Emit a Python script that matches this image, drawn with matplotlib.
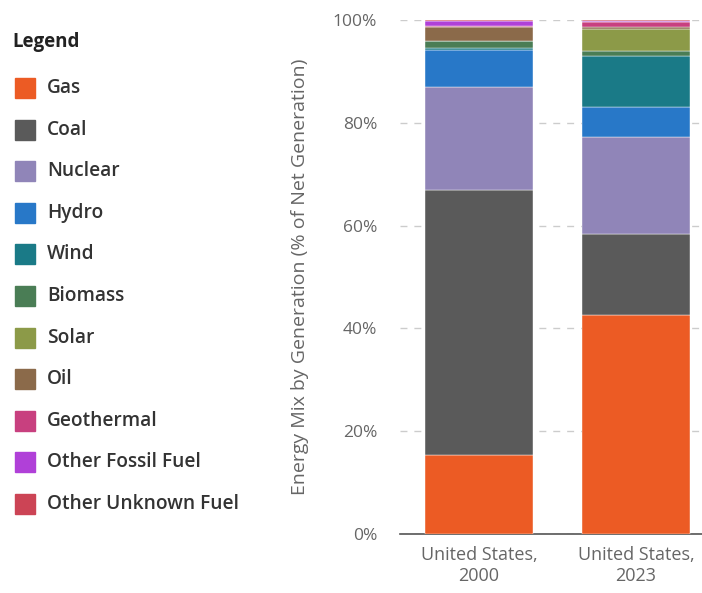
import matplotlib.pyplot as plt
from matplotlib.patches import Rectangle
from matplotlib.ticker import FuncFormatter

plt.rcParams['font.family'] = ['Open Sans', 'DejaVu Sans']

regions = ["United States,\n2000", "United States,\n2023"]
fuels = ["Gas", "Coal", "Nuclear", "Hydro", "Wind", "Biomass", "Solar", "Oil",
         "Geothermal", "Other Fossil Fuel", "Other Unknown Fuel"]
colors = ["#ec5b24", "#5a5a5a", "#9085b8", "#2878c8", "#1a7a87", "#4a7d55",
          "#8c9a48", "#8b6a4a", "#c8407f", "#b040d8", "#cc4455"]

share_2000 = [15.4, 51.5, 20.1, 7.2, 0.4, 1.3, 0.0, 2.8, 0.2, 1.0, 0.1]
share_2023 = [42.6, 15.7, 19.0, 5.7, 10.0, 1.0, 4.3, 0.4, 0.9, 0.3, 0.1]

W, H = 702, 593
fig = plt.figure(figsize=(W / 100, H / 100), dpi=100)
ax = fig.add_axes([400 / W, 59 / H, 302 / W, 514 / H])

x = [0, 1]
bottoms = [0.0, 0.0]
for i, fuel in enumerate(fuels):
    vals = [share_2000[i], share_2023[i]]
    ax.bar(x, vals, width=0.69, bottom=bottoms, color=colors[i],
           edgecolor="white", linewidth=0.3, zorder=3)
    bottoms = [b + v for b, v in zip(bottoms, vals)]

ax.set_xlim(-0.503, 1.42)
ax.set_ylim(0, 100)
ax.set_yticks([0, 20, 40, 60, 80, 100])
ax.yaxis.set_major_formatter(FuncFormatter(lambda v, p: f"{int(v)}%"))
ax.set_xticks(x)
ax.set_xticklabels(regions)
ax.tick_params(axis="both", length=0, labelsize=12.5, colors="#666666")
ax.tick_params(axis="x", labelsize=13)
ax.tick_params(axis="y", pad=16.5)
ax.tick_params(axis="x", pad=9)
ax.grid(axis="y", color="#cccccc", linestyle=(0, (5, 5)), linewidth=1, zorder=0)
for s in ["top", "right", "left"]:
    ax.spines[s].set_visible(False)
ax.spines["bottom"].set_color("#555555")
ax.spines["bottom"].set_linewidth(1.2)
ax.set_ylabel("Energy Mix by Generation (% of Net Generation)", fontsize=14,
              color="#666666", labelpad=17)

# legend drawn on the left
fig.text(12 / W, 1 - 42 / H, "Legend", fontsize=13.5, fontweight="bold",
         color="#222222", va="center", ha="left")
for i, fuel in enumerate(fuels):
    yc = 88 + i * 41.6
    fig.patches.append(Rectangle((15 / W, 1 - (yc + 10) / H), 20 / W, 20 / H,
                                 transform=fig.transFigure, color=colors[i]))
    fig.text(47 / W, 1 - yc / H, fuel, fontsize=13.8, fontweight="semibold",
             color="#333333", va="center", ha="left")

fig.savefig("out.png", dpi=100)
